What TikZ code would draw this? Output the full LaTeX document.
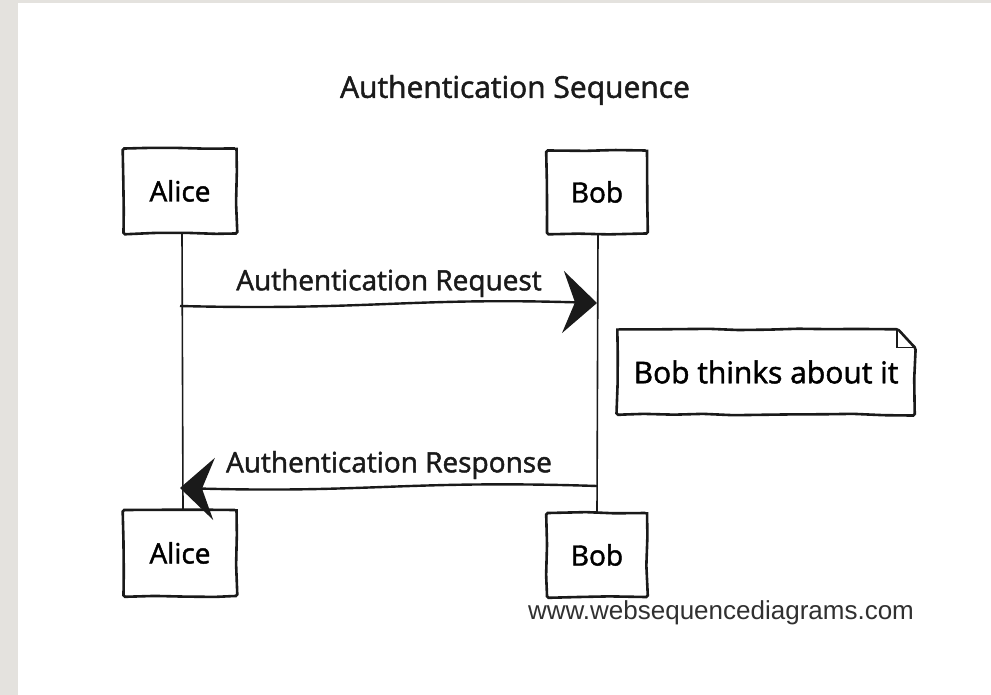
\documentclass[tikz,border=0pt]{standalone}
\usepackage{fontspec}
\usetikzlibrary{arrows.meta,calc,positioning,decorations.pathmorphing}
\newfontfamily\handfont[FakeBold=1.6]{Open Sans}
\newfontfamily\urlfont{Liberation Sans}
\definecolor{pagegrey}{HTML}{E4E2DE}
\definecolor{inkblack}{HTML}{1A1A1A}
\definecolor{urlgrey}{HTML}{303030}

\begin{document}
\begin{tikzpicture}[x=1pt, y=-1pt, >=Stealth,
    sketch/.style={draw=inkblack, line width=2.6pt, rounded corners=1.5pt,
      decorate, decoration={random steps, segment length=30pt, amplitude=0.9pt}},
    actor/.style={sketch, fill=white, font=\handfont\fontsize{28}{30}\selectfont},
    lifeline/.style={draw=inkblack, line width=1.6pt},
    msg/.style={draw=inkblack, line width=2.4pt,
      -{Stealth[length=34pt, width=62pt, inset=12pt]}},
    label/.style={font=\handfont\fontsize{28}{30}\selectfont, text=inkblack}]
  \useasboundingbox (0,0) rectangle (991,695);
  % Page
  \fill[pagegrey] (0,0) rectangle (991,695);
  \fill[white] (18,3) rectangle (991,695);
  % Title
  \node[label, font=\handfont\fontsize{30}{32}\selectfont] (title) at (515,90) {Authentication Sequence};
  % Lifelines first, boxes on top
  \draw[lifeline] (182,233) -- (183,510);
  \draw[lifeline] (598,233) -- (597,513);
  % The boxes
  \node[actor, minimum width=113pt, minimum height=85pt] (aliceTop) at (180,191) {Alice};
  \node[actor, minimum width=100pt, minimum height=83pt] (bobTop) at (597,192) {Bob};
  \node[actor, minimum width=113pt, minimum height=86pt] (aliceBot) at (180,553) {Alice};
  \node[actor, minimum width=100pt, minimum height=84pt] (bobBot) at (597,555) {Bob};
  % Request
  \coordinate (reqA) at (aliceTop.south |- 0,306);
  \coordinate (reqB) at (bobTop.south |- 0,303);
  \draw[msg] (reqA) .. controls ($(reqA)!0.45!(reqB)+(0,6)$) and ($(reqA)!0.55!(reqB)+(0,-7)$) .. (reqB);
  \node[label] (reqLabel) at (389,283) {Authentication Request};
  % Note
  \node[font=\handfont\fontsize{30}{32}\selectfont, minimum width=297pt, minimum height=85pt] (note) at (766,372) {Bob thinks about it};
  \draw[sketch] (note.north west) -- ([xshift=-18pt]note.north east)
    -- ([yshift=-18pt]note.north east) -- (note.south east) -- (note.south west) -- cycle;
  \draw[draw=inkblack, line width=1.6pt] ([xshift=-18pt]note.north east)
    |- ([yshift=-18pt]note.north east);
  % Response
  \coordinate (resB) at (bobTop.south |- 0,486);
  \coordinate (resA) at (aliceTop.south |- 0,488);
  \draw[msg] (resB) .. controls ($(resB)!0.45!(resA)+(0,-7)$) and ($(resB)!0.55!(resA)+(0,6)$) .. (resA);
  \node[label] (resLabel) at (389,465) {Authentication Response};
  % Footer
  \node[font=\urlfont\fontsize{26}{30}\selectfont, text=urlgrey] (url) at (721,613) {www.websequencediagrams.com};
\end{tikzpicture}
\end{document}
